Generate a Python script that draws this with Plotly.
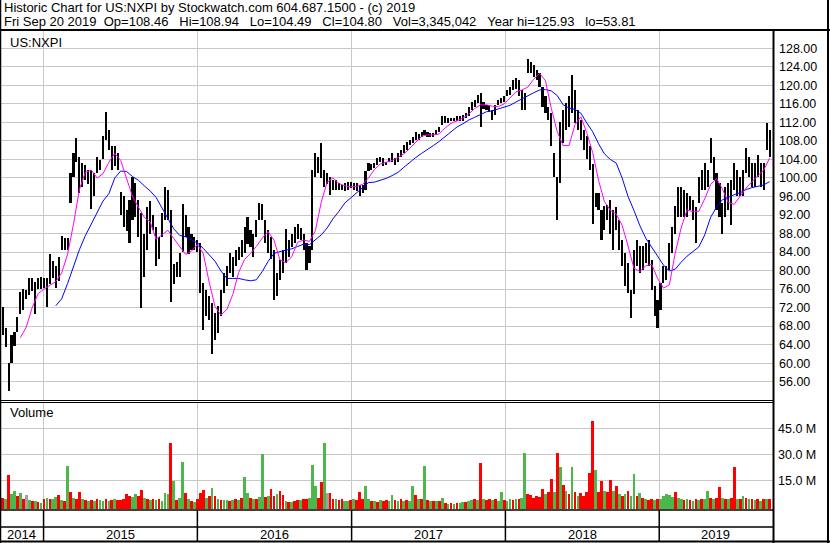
import plotly.graph_objects as go
import pandas as pd

W, H = 830, 543
def py(p):
    return 1 - p / H
def px(p):
    return p / W

# ---------------- data (weekly) ----------------
first_week = "2014-09-26"
n_weeks = 261
dates = pd.date_range(first_week, periods=n_weeks, freq="7D")

high = [
    72.2, 67.5, 60, 66.1, 66.8, 70, 75.3, 76, 75.7, 78.4,
    78.4, 77.5, 78.4, 78.6, 78.4, 78.4, 83.5, 82, 81, 82.9,
    87.4, 87, 87, 101, 105.3, 108.7, 104.6, 103.2, 102.8, 101.7,
    101.7, 101, 104.6, 103.9, 109, 114.2, 110.4, 106.8, 106.8, 105.3,
    97, 96, 93, 95.2, 100.3, 99, 95.2, 92.4, 88, 93.8,
    95, 92, 89.4, 87.3, 92.4, 98.1, 97.4, 93, 81.5, 81.9,
    83.7, 94.3, 92, 89.4, 88, 87.3, 86.6, 85.9, 77.3, 75.8,
    74.4, 73, 70.8, 72.3, 75.8, 79.4, 80.9, 83.7, 83, 84.4,
    85.1, 86.6, 89.4, 91.6, 88.7, 88, 90.9, 94.5, 94.3, 91,
    88.7, 87.3, 84.4, 79.5, 82.3, 84.4, 89, 86.6, 88, 89.4,
    90, 89.1, 88, 85.9, 85.2, 101.7, 105.3, 104.6, 107.5, 101.7,
    101, 100.3, 99.6, 99.6, 98.9, 98.5, 98.9, 99.2, 99.2, 98.9,
    98.9, 98.5, 98.5, 101.4, 103.2, 103, 103.2, 104.3, 104.6, 104.3,
    103.5, 104.3, 105.3, 104.3, 105.3, 106, 107.1, 107.8, 108.2, 108.9,
    110, 109.6, 110, 110.4, 110, 109.8, 109.7, 110.4, 111.1, 113.3,
    113.3, 112.9, 112.9, 112.9, 113.3, 113.3, 113.7, 114, 115.4, 116.5,
    116.9, 118, 118.3, 116.5, 115.8, 115.8, 114.7, 115.8, 116.9, 117.2,
    117.6, 119, 119.7, 121.1, 121.5, 121.1, 119, 118.3, 125.8, 125.1,
    124.4, 123.3, 122.6, 119.7, 117.6, 115.4, 114, 105.3, 100.3, 112,
    114.7, 116.1, 117.6, 122.2, 119, 114.7, 112.6, 110.4, 109, 106.8,
    103, 96.7, 96.7, 93, 94, 94.2, 95.2, 93.1, 93.8, 91,
    86.6, 83.7, 81.6, 75.9, 84.4, 86.6, 85.2, 85.2, 86, 86.6,
    82.3, 76.6, 73.7, 77.3, 80.9, 80.9, 86, 89.4, 94, 98.1,
    98.1, 97.4, 96.7, 96, 95.3, 93.8, 100.3, 101.7, 103.2, 101.7,
    108.6, 104.6, 101, 98.9, 94.5, 98.1, 98.9, 99.6, 103.2, 101.7,
    100.3, 101.7, 106.4, 104.6, 103.2, 103.2, 105, 103.2, 103.2, 111.9,
    110.4,
]

low = [
    66, 63.5, 54, 60, 63.6, 66.8, 70.6, 71.5, 73.9, 74.8,
    75.6, 70.6, 76, 76, 76.2, 72.2, 77, 78.4, 76.3, 77.8,
    84.5, 84.5, 84.5, 94.5, 100.3, 103.4, 96.7, 98.1, 99.6, 98.8,
    93.4, 96, 101, 101.7, 104, 108.3, 106.1, 101.7, 102.5, 101.7,
    92, 89.4, 88.5, 85.9, 91, 91.6, 87.3, 72, 78.7, 84.4,
    88, 88.7, 80.9, 82.6, 87.3, 91, 91, 73.3, 77.2, 78.6,
    78.6, 84, 87.3, 83.5, 84.4, 84.4, 84, 75.1, 67.2, 70.1,
    69.4, 61.9, 65.1, 66.5, 70.1, 75.1, 76.6, 79.4, 78.7, 80.9,
    82.2, 83, 83.7, 85.8, 85.1, 83, 87.3, 90.9, 90.9, 86,
    83.7, 82.4, 73.6, 74.5, 78, 79.5, 81.7, 83, 85.1, 85.9,
    86.9, 86.6, 84.4, 80.1, 81.7, 84.5, 100.3, 101, 99.9, 98.1,
    98.8, 96.4, 97.4, 97.4, 97.4, 97.4, 97.1, 97.4, 97.8, 97.4,
    97.1, 96, 96.7, 97.4, 101.4, 101.8, 102.1, 102.8, 103.5, 102.5,
    102.8, 103.5, 103.5, 102.8, 103.5, 104.6, 105.3, 106, 107.1, 107.5,
    108.2, 108.2, 108.9, 109.3, 108.9, 108.9, 108.8, 109.3, 110, 111.5,
    111.9, 111.9, 112.2, 112.2, 112.2, 112.4, 112.4, 112.9, 113.3, 114.7,
    115.4, 116.1, 111.1, 114.8, 114.7, 114.3, 112.6, 113.7, 115.8, 116.1,
    116.5, 117.6, 117.9, 119, 119.3, 117.6, 114.7, 114.7, 122.6, 122.6,
    121.9, 121.2, 119.7, 115.4, 114, 112.6, 106.8, 100.3, 91, 99,
    107.5, 110.4, 111.1, 114, 111.9, 110.4, 108.2, 106.1, 104, 101.7,
    90, 93.8, 93.1, 86.6, 88.7, 91, 88, 84.4, 88.7, 84.4,
    80.9, 76.6, 75.2, 69.7, 75, 80.9, 79.4, 80.1, 81.6, 80.9,
    75.9, 70.1, 67.6, 71.5, 77.3, 78, 80.1, 83.7, 88, 91.6,
    91.6, 91.6, 91.6, 93.1, 91, 86, 94.5, 97.4, 97.4, 98.1,
    103.2, 99.6, 93.1, 91.6, 88, 91.6, 93.1, 89.8, 97.4, 96,
    96, 96, 101, 100.3, 98.1, 98.1, 100.3, 98.1, 97.4, 106,
    104.6,
]

# volume in millions of shares
volume_m = [
    5, 4, 18, 7, 8.8, 6, 7.5, 4, 6.5, 3.5,
    3, 3, 2.5, 2, 4, 5, 4.5, 4, 5.5, 6.3,
    3.5, 3, 23.5, 8, 5, 4.5, 8.5, 4, 3.5, 3,
    3.5, 3, 4, 3.5, 3, 4, 3, 3.5, 4, 3.5,
    3.5, 4.5, 7.3, 6, 5.5, 7, 6, 9.3, 5, 4,
    3.5, 4, 3.5, 4, 3, 7.5, 7, 36.5, 14.6, 3.5,
    5, 25.5, 7.5, 4, 3, 2.5, 4, 7.5, 9.5, 5,
    6, 10.8, 6, 4, 3.5, 3.5, 3.5, 3, 3.5, 4,
    3.5, 5, 17, 7.5, 5, 4, 4, 5.5, 30, 5.5,
    6, 10, 6, 7, 9, 6.5, 3, 2.5, 2.5, 3,
    3.5, 3.5, 4, 4.5, 5, 24, 12, 5, 14, 36.5,
    7.5, 7.5, 4.5, 4, 3.5, 4, 3, 3, 3.5, 4,
    3.5, 8.3, 4, 12, 4, 3, 3, 2.5, 3.5, 3,
    3.5, 3, 6.5, 3.5, 3, 4, 3, 3.5, 3, 11.7,
    6.5, 4, 4, 23.3, 3.5, 3, 3, 3, 3, 4.6,
    2, 1.5, 2, 1.5, 2, 2, 2.5, 2.5, 3, 3.5,
    4, 3.5, 24.8, 4, 3.5, 4, 3.5, 4.5, 3, 8.5,
    3.5, 3, 4, 3.5, 4.5, 4, 5, 30.6, 7, 6.5,
    5, 6, 5.5, 9.8, 7, 8, 15.6, 8, 31, 22.9,
    12.3, 9, 7, 22.9, 8, 6, 7.5, 6, 8, 19,
    49, 21, 8, 14.6, 9, 8, 15.2, 9, 12, 7,
    6, 7, 8.8, 6, 18.7, 6, 7.5, 5, 4, 3.5,
    4, 3.5, 4, 4.5, 6, 7, 6.5, 5.5, 8.5, 5,
    4, 3.5, 4, 3.5, 3, 4, 3.5, 4, 4.5, 8.8,
    5, 4.5, 5, 11.3, 5, 4.5, 4, 5, 22.9, 4.5,
    4, 6.2, 5, 4.5, 4, 3.5, 4, 3, 4, 4.5,
    4,
]

# r = down week, g = up week, n = unchanged
direction_rows = [
    "rgrggrgrng", "rgrgrgrggr", "grgrgrrgrg", "rgrggrgrgr", "rrrrggrrgr",
    "grgrgggrgr", "ggrgrgrrrg", "rgrgrggrgr", "grggrgrggr", "grrgrrgrgr",
    "rgrrgggrrg", "nrrgrrggrg", "rrrggrgrgr", "rggrgrgrgg", "rgrgrgrgrg",
    "rgrgrggrgg", "rgrgrrgrgg", "rggrgrggrr", "rrrrgrrgrg", "rgrgrgrrrr",
    "rgrrgrrgrg", "rgrggrgrgr", "rgrgggggrg", "grgrgrgrgg", "rgrrgrgrrg",
    "rgrgrgrgrg", "r",
]

# moving averages read every second week (None = not yet started)
ma_short = [
    None, None, None, 65.5, 67.8, 72, 75, 76, 76.8, 77.6,
    79.5, 83.5, 90, 97.5, 101.2, 101.7, 100, 100.9, 103.4, 105.3,
    103.8, 99.7, 96, 93.7, 91.5, 90.5, 86.8, 87.7, 88.7, 86.9,
    85.1, 83.5, 84.2, 85.6, 83.7, 77.5, 72.2, 70.4, 71.6, 74.8,
    79.6, 82.4, 83.7, 85.2, 87, 88.4, 86.5, 82.3, 81.7, 83,
    86.1, 86.6, 86.3, 88.6, 94.8, 99.1, 100, 98.8, 98.3, 98.1,
    98.2, 98.6, 100, 101.8, 103, 103.4, 103.8, 104.4, 105.2, 106.4,
    107.7, 109, 109.3, 109.3, 109.5, 110.8, 111.8, 112.4, 112.9, 113.8,
    115, 115.8, 115.8, 115.5, 115.4, 116, 117.2, 118.6, 119, 119.6,
    121.3, 122.6, 121, 115, 110, 107, 107, 111.5, 113.2, 109.8,
    105.5, 99.5, 94.9, 93, 92.2, 89.8, 85.3, 80.5, 79.8, 81,
    81.4, 78.3, 76.2, 76.9, 83.8, 89.2, 93.1, 92.7, 92.8, 95.5,
    98.6, 99.9, 97.6, 94.7, 94.3, 96, 97.8, 99.2, 100.5, 101.7,
    104.3,
]
ma_long = [
    None, None, None, None, None, None, None, None, None, 72.4,
    73.9, 77.2, 81, 84.5, 87.5, 90, 92.5, 95, 96.6, 100,
    101.5, 101.4, 100.3, 99.5, 98.3, 97.2, 95.8, 93.5, 91.2, 89,
    87.6, 87.3, 86.6, 86, 84.8, 83.4, 82, 79.9, 78.3, 78.3,
    78.3, 78, 77.8, 78, 79.8, 82, 83.7, 84.1, 84.4, 84.7,
    85.2, 85.7, 85.6, 86.6, 87.7, 89.2, 91.2, 92.8, 94.6, 95.7,
    96.7, 97.9, 99, 99.1, 99.5, 99.9, 100.5, 101.2, 102.3, 103.4,
    104.4, 105.3, 106.1, 107, 107.9, 109, 110, 111, 111.7, 112.5,
    113.1, 113.7, 114.3, 114.5, 114.9, 115.2, 115.7, 116.4, 117.1, 117.8,
    118.4, 119, 119.1, 118.8, 117.8, 115.8, 115.1, 114.8, 114, 111.9,
    110, 107.4, 105.2, 104, 103.2, 100, 96, 93, 89.7, 87,
    85, 83.2, 81.2, 79.9, 80.3, 81.8, 83.1, 84.1, 85.1, 87.7,
    91.5, 93.7, 95.3, 95.8, 96.4, 96.8, 97.5, 97.9, 98.2, 98.5,
    99.2,
]

price_ticks = [56, 60, 64, 68, 72, 76, 80, 84, 88, 92, 96, 100, 104, 108, 112, 116, 120, 124, 128]
volume_ticks = [15, 30, 45]
year_starts = ["2015-01-01", "2016-01-01", "2017-01-01", "2018-01-01", "2019-01-01"]
year_labels = ["2014", "2015", "2016", "2017", "2018", "2019"]
year_label_pos = ["2014-11-10", "2015-07-02", "2016-07-02", "2017-07-02", "2018-07-02", "2019-05-15"]

title1 = "Historic Chart for US:NXPI by Stockwatch.com 604.687.1500 - (c) 2019"
title2 = ("Fri Sep 20 2019&nbsp;&nbsp;Op=108.46&nbsp;&nbsp;&nbsp;Hi=108.94&nbsp;&nbsp;&nbsp;Lo=104.49"
          "&nbsp;&nbsp;&nbsp;Cl=104.80&nbsp;&nbsp;&nbsp;Vol=3,345,042&nbsp;&nbsp;&nbsp;Year hi=125.93&nbsp;&nbsp;&nbsp;lo=53.81")

# ---------------- figure ----------------
direction = "".join(direction_rows)
col_map = {"r": "#FF0000", "g": "#4CB84C", "n": "#A0A0A0"}
vol_colors = [col_map[c] for c in direction]
DAY = 86400000
VOL_FLOOR = -1.56   # bottom of the volume panel (bars start at the frame)

FONT = "Liberation Sans, Arial, sans-serif"
GRID = "#C8C8C8"

fig = go.Figure()
fig.add_trace(go.Bar(
    x=dates, y=[h - l for h, l in zip(high, low)], base=low,
    width=5 * DAY, marker=dict(color="black", line=dict(width=0)),
    xaxis="x", yaxis="y", hoverinfo="skip"))
fig.add_trace(go.Scatter(
    x=dates[::2], y=ma_long, mode="lines", line=dict(color="#0000FF", width=1),
    connectgaps=False, xaxis="x", yaxis="y", hoverinfo="skip"))
fig.add_trace(go.Scatter(
    x=dates[::2], y=ma_short, mode="lines", line=dict(color="#FF00FF", width=1),
    connectgaps=False, xaxis="x", yaxis="y", hoverinfo="skip"))
fig.add_trace(go.Bar(
    x=dates, y=[v - VOL_FLOOR for v in volume_m], base=VOL_FLOOR, width=6.5 * DAY,
    marker=dict(color=vol_colors, line=dict(width=0)),
    xaxis="x2", yaxis="y2", hoverinfo="skip"))

xrange = ["2014-09-22", "2019-09-28"]
xdom = [px(1), px(773)]
common_x = dict(type="date", range=xrange, domain=xdom, tickvals=year_starts,
                showticklabels=False, showgrid=True, gridcolor=GRID, gridwidth=1,
                zeroline=False, showline=False, ticks="")

fig.update_layout(
    width=W, height=H, autosize=False,
    margin=dict(l=0, r=0, t=0, b=0, pad=0),
    paper_bgcolor="white", plot_bgcolor="white",
    showlegend=False, bargap=0,
    font=dict(family=FONT, size=12, color="black"),
    xaxis=dict(anchor="y", **common_x),
    xaxis2=dict(anchor="y2", matches="x", **common_x),
    yaxis=dict(anchor="x", domain=[py(400.2), py(29.8)], range=[52, 132], side="right",
               tickvals=price_ticks, ticktext=[f"{v:.2f}" for v in price_ticks],
               showgrid=True, gridcolor=GRID, gridwidth=1, zeroline=False, showline=False,
               ticks="", ticklabelstandoff=5, tickfont=dict(size=12.5, color="black")),
    yaxis2=dict(anchor="x2", domain=[py(509), py(402.5)], range=[VOL_FLOOR, 59.88], side="right",
                tickvals=volume_ticks, ticktext=[f"{v:.1f} M" for v in volume_ticks],
                showgrid=True, gridcolor=GRID, gridwidth=1, zeroline=False, showline=False,
                ticks="", ticklabelstandoff=4, tickfont=dict(size=12.5, color="black")),
)

annotations = [
    dict(text=title1, x=px(3), y=py(7.2), xanchor="left", yanchor="middle"),
    dict(text=title2, x=px(3), y=py(21.3), xanchor="left", yanchor="middle"),
    dict(text="US:NXPI", x=px(9), y=py(42.5), xanchor="left", yanchor="middle"),
    dict(text="Volume", x=px(9), y=py(413), xanchor="left", yanchor="middle"),
]
for a in annotations:
    a.update(xref="paper", yref="paper", showarrow=False, borderpad=0,
             font=dict(family=FONT, size=13, color="black"))
for lab, pos in zip(year_labels, year_label_pos):
    annotations.append(dict(text=lab, x=pos, xref="x", y=py(534.5), yref="paper",
                            xanchor="center", yanchor="middle", showarrow=False, borderpad=0,
                            font=dict(family=FONT, size=13, color="black")))
fig.update_layout(annotations=annotations)

def hline(y, x0, x1, w=1):
    return dict(type="line", xref="paper", yref="paper", x0=px(x0), x1=px(x1),
                y0=py(y), y1=py(y), line=dict(color="black", width=w))
def vline(x, y0, y1, w=1):
    return dict(type="line", xref="paper", yref="paper", x0=px(x), x1=px(x),
                y0=py(y0), y1=py(y1), line=dict(color="black", width=w))

shapes = [
    hline(30, 0, 830, 2),
    hline(400.5, 0, 773.5, 1),
    hline(402.5, 0, 773.5, 1),
    hline(510, 0, 773.5, 1.5),
    hline(527, 0, 773.5, 1.5),
    hline(541.5, 0, 830, 2),
    vline(0.5, 0, 543, 1.5),
    vline(773.5, 30, 543, 2),
    vline(828, 0, 543, 2),
]
for ys in year_starts:
    shapes.append(dict(type="line", xref="x", yref="paper", x0=ys, x1=ys,
                       y0=py(510), y1=py(542), line=dict(color="black", width=1.5)))
fig.update_layout(shapes=shapes)

fig.write_html("out.html", config={"displayModeBar": False, "staticPlot": True})

# remove the browser's default page margin so the chart sits at (0, 0)
with open("out.html", "r", encoding="utf-8") as f:
    html = f.read()
html = html.replace("<body>", '<body style="margin:0;padding:0;overflow:hidden">', 1)
with open("out.html", "w", encoding="utf-8") as f:
    f.write(html)
